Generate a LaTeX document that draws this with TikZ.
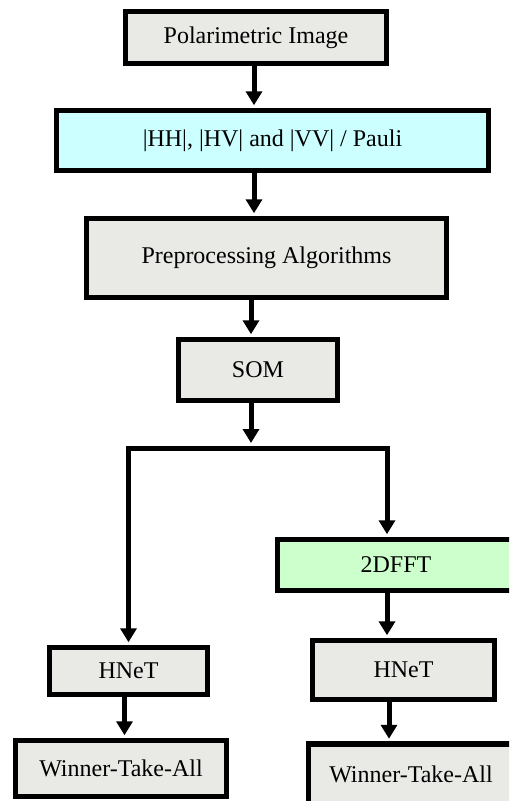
\documentclass[tikz,border=0pt]{standalone}
\usepackage{fontspec}
\setmainfont{Liberation Serif}
\usepackage{tikz}
\usetikzlibrary{arrows.meta}
\usetikzlibrary{calc}
\definecolor{boxgray}{RGB}{233,234,230}
\definecolor{boxcyan}{RGB}{204,255,255}
\definecolor{boxgreen}{RGB}{204,255,204}
\tikzstyle{box} = [draw, line width=5.5pt, fill=boxgray, inner sep=0pt, font=\rmfamily\fontsize{24}{28}\selectfont]
\tikzstyle{arrow} = [line width=5pt, -{Triangle[width=16pt,length=14pt]}, shorten >=2.5pt]
\tikzstyle{line} = [line width=5pt, line join=miter]

\begin{document}
\begin{tikzpicture}[x=1pt, y=-1pt]
\useasboundingbox (0,0) rectangle (509,801);
\clip (0,0) rectangle (509,801);
\node[box, minimum width=261pt, minimum height=52pt] (polar) at (256,37.5) {Polarimetric Image};
\node[box, fill=boxcyan, minimum width=432pt, minimum height=60pt] (pauli) at (272.5,140.5) {|HH|, |HV| and |VV| / Pauli};
\node[box, minimum width=360pt, minimum height=79pt] (prep) at (266.5,258) {Preprocessing Algorithms};
\node[box, minimum width=159pt, minimum height=61pt] (som) at (258,370) {SOM};
\node[box, fill=boxgreen, minimum width=237pt, minimum height=51pt] (fft) at (396,565) {2DFFT};
\node[box, minimum width=182pt, minimum height=59pt] (hnetR) at (403.5,670) {HNeT};
\node[box, minimum width=205pt, minimum height=60pt] (wtaR) at (411,774) {Winner-Take-All};
\node[box, minimum width=158pt, minimum height=47pt] (hnetL) at (128.5,671) {HNeT};
\node[box, minimum width=211pt, minimum height=56pt] (wtaL) at (121,768.5) {Winner-Take-All};
\coordinate (split) at (251,448);
\coordinate (rjoin) at (387,448);
% main column
\draw[arrow] ($(polar.south)+(-2,0)$) -- ($(polar.south |- pauli.north)+(-2,0)$);
\draw[arrow] ($(polar.south |- pauli.south)+(-2,0)$) -- ($(polar.south |- prep.north)+(-2,0)$);
\draw[arrow] (split |- prep.south) -- (split |- som.north);
\draw[arrow] (split |- som.south) -- ($(split)+(0,-2.5)$);
% branches
\draw[line] (split -| hnetL) -- (rjoin);
\draw[arrow, line join=miter] ($(split -| hnetL)+(2.5,0)$) -| (hnetL.north);
\draw[arrow, line join=miter] ($(rjoin)+(-2.5,0)$) -| (rjoin |- fft.north);
\draw[arrow] (rjoin |- fft.south) -- (rjoin |- hnetR.north);
\draw[arrow] ($(rjoin |- hnetR.south)+(2,0)$) -- ($(rjoin |- wtaR.north)+(2,0)$);
\draw[arrow] ($(hnetL.south)+(-4,0)$) -- ($(hnetL.south |- wtaL.north)+(-4,0)$);
\end{tikzpicture}
\end{document}
